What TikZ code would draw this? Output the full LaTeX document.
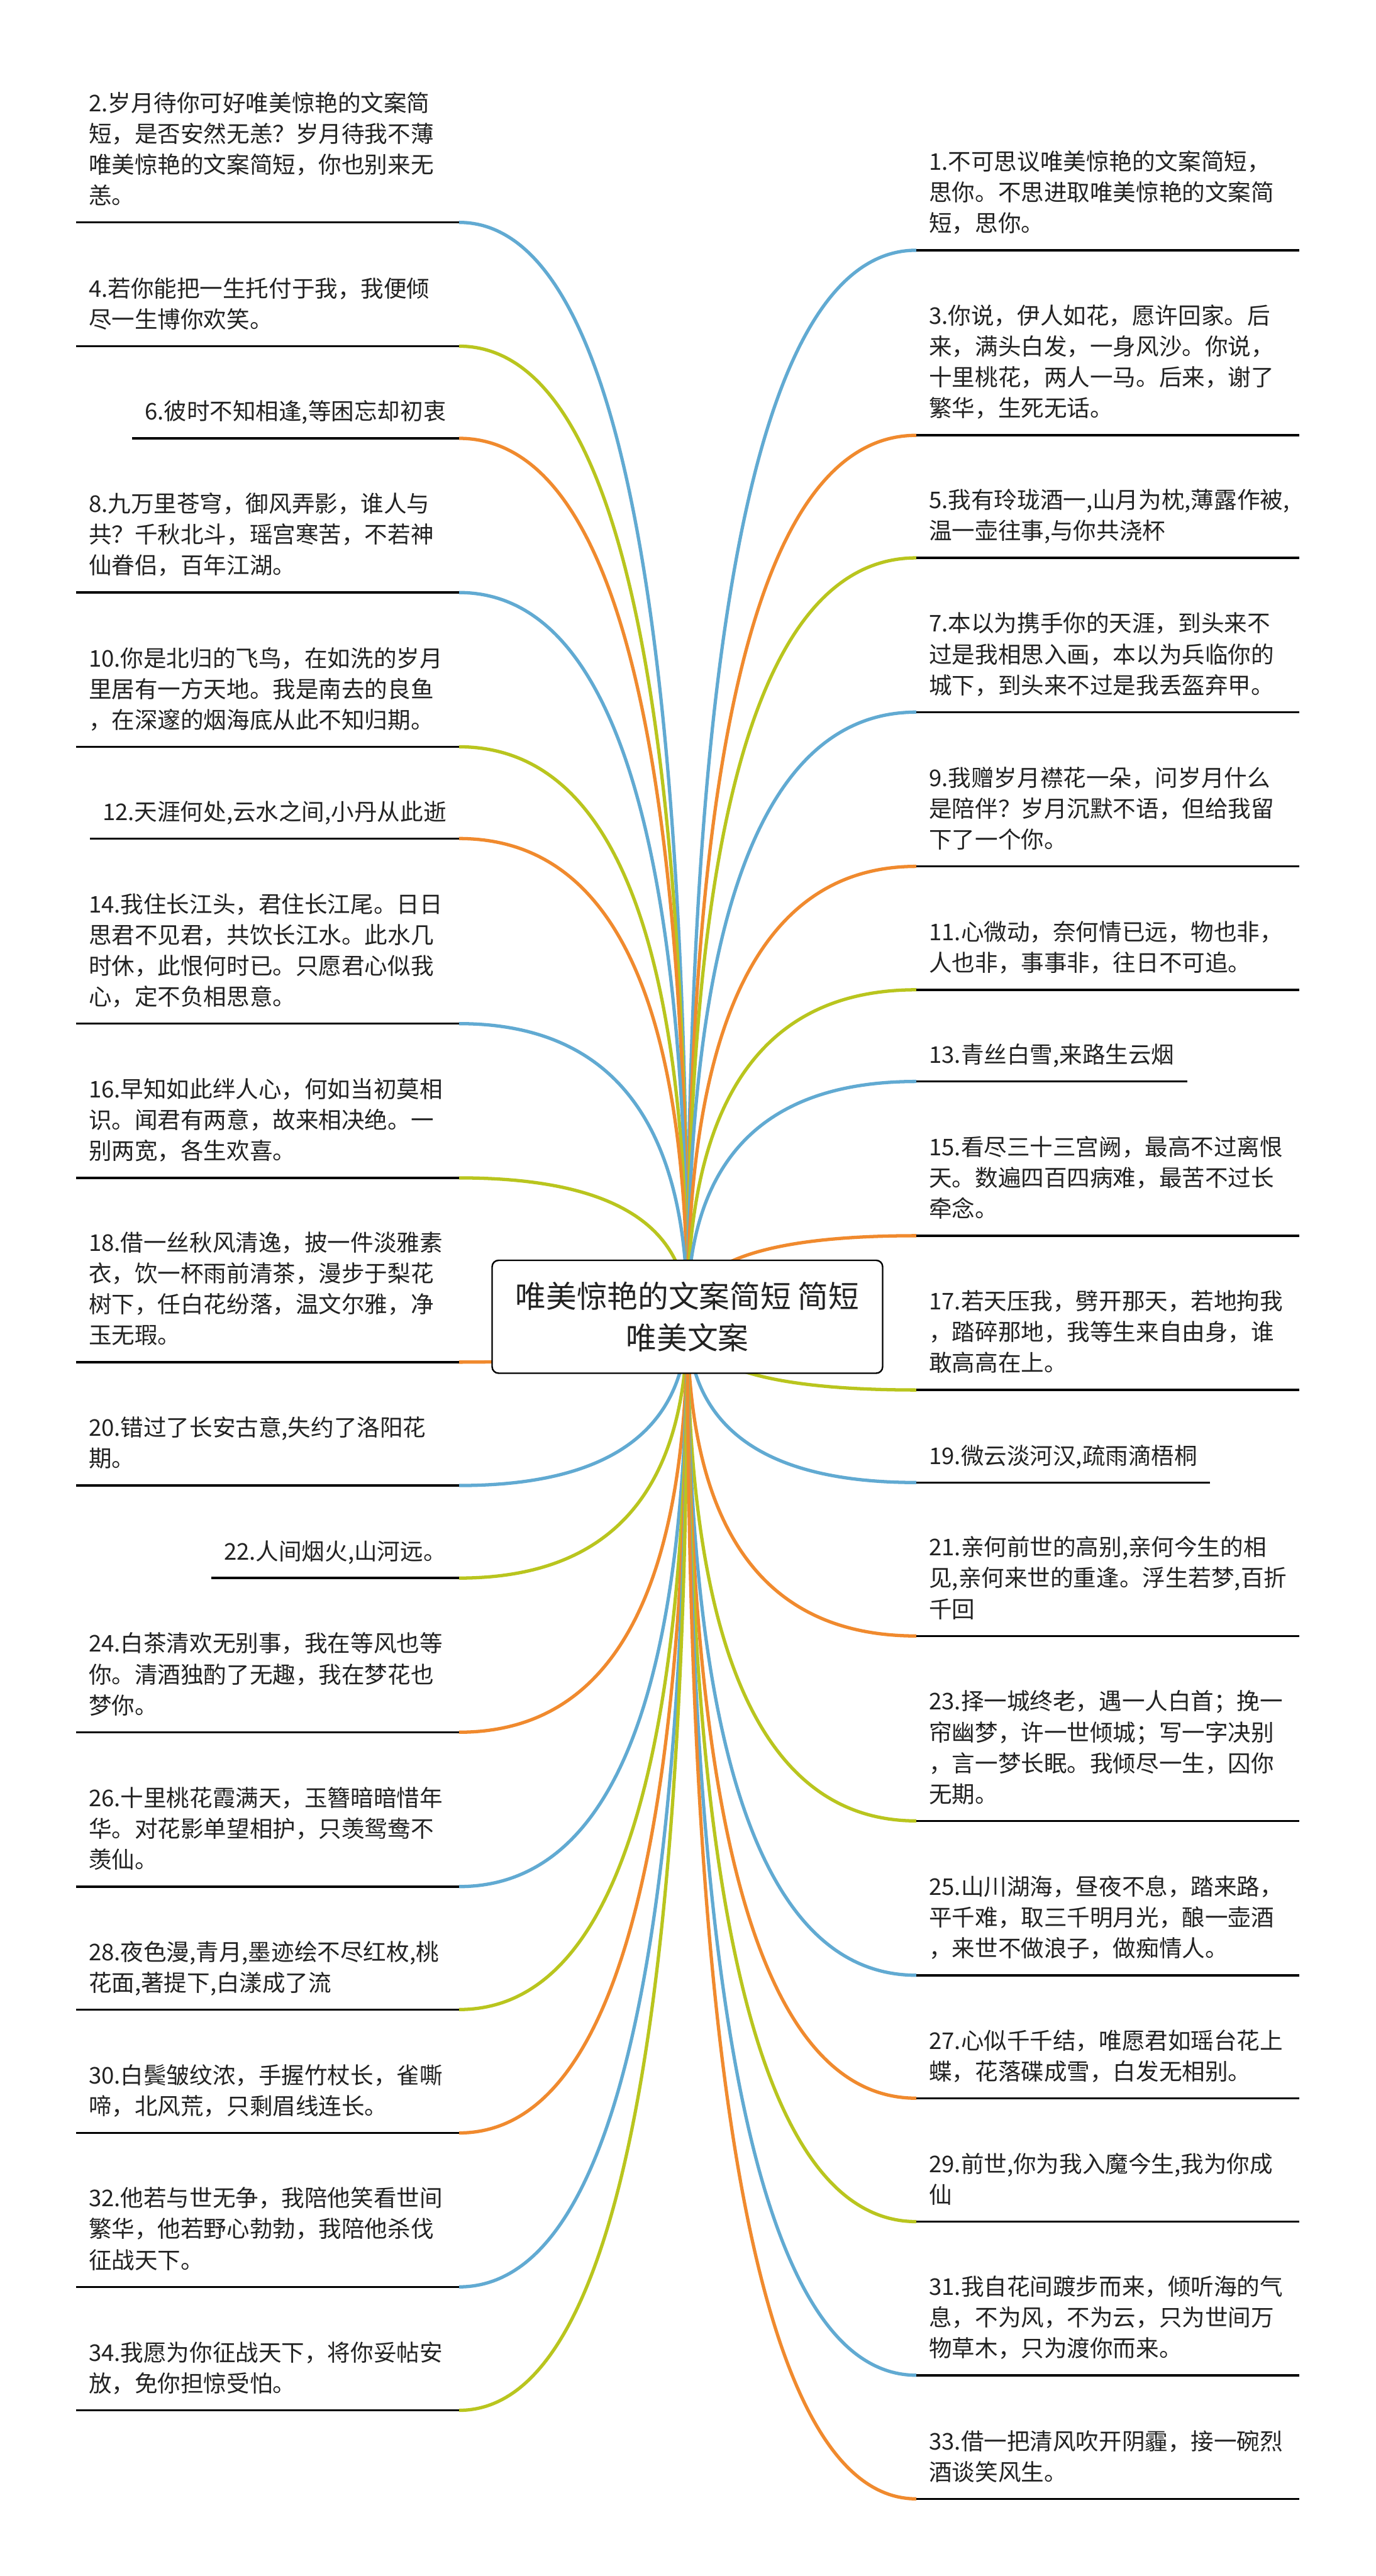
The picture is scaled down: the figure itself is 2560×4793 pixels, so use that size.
\documentclass[tikz,border=0pt]{standalone}
\usepackage{fontspec}
\setmainfont{Noto Sans CJK SC}
\usetikzlibrary{calc,backgrounds}
\definecolor{cblue}{RGB}{97,170,210}
\definecolor{cgreen}{RGB}{185,197,30}
\definecolor{corange}{RGB}{240,138,46}
\definecolor{ctext}{RGB}{34,34,34}
\newcommand\itemfont{\fontsize{12.84pt}{17.22pt}\selectfont}
\newcommand\rootfont{\fontsize{17.1pt}{23pt}\selectfont}
\tikzset{
  item/.style={inner xsep=6.9pt, inner ysep=4.9pt, font=\itemfont, text=ctext, execute at end node=\strut},
  multi/.style={text width=199.6pt, align=left},
  single/.style={},
  litem/.style={item, anchor=south east},
  ritem/.style={item, anchor=south west},
  uline/.style={line width=1.25pt, black},
  conn/.style={line width=1.85pt},
  rootbox/.style={draw=black, line width=0.85pt, rounded corners=3.6pt, fill=white,
    minimum width=218pt, minimum height=63pt, font=\rootfont, align=center, text=ctext, inner sep=0pt}
}
\newcommand\lentry[5]{%
  \node[litem,#4] (#1) at (854,#2) {#5};
  \draw[uline] (#1.south west) -- (#1.south east);
  \begin{pgfonlayer}{background}
    \coordinate (k#1) at (root.center |- #1.south east);
    \draw[conn,#3] (root.center) .. controls ($(root.center)!0.6667!(k#1)$) and ($(#1.south east)!0.6667!(k#1)$) .. (#1.south east);
  \end{pgfonlayer}}
\newcommand\rentry[5]{%
  \node[ritem,#4] (#1) at (1705,#2) {#5};
  \draw[uline] (#1.south west) -- (#1.south east);
  \begin{pgfonlayer}{background}
    \coordinate (k#1) at (root.center |- #1.south west);
    \draw[conn,#3] (root.center) .. controls ($(root.center)!0.6667!(k#1)$) and ($(#1.south west)!0.6667!(k#1)$) .. (#1.south west);
  \end{pgfonlayer}}
\begin{document}
\begin{tikzpicture}[x=0.3pt,y=-0.3pt]
\useasboundingbox (0,0) rectangle (2560,4793);
\begin{pgfonlayer}{background}
  \fill[white] (0,0) rectangle (2560,4793);
\end{pgfonlayer}
\node[rootbox] (root) at (1279,2450) {唯美惊艳的文案简短 简短\\唯美文案};
% left column
\lentry{n2}{413.8}{cblue}{multi}{2.岁月待你可好唯美惊艳的文案简\\短，是否安然无恙？岁月待我不薄\\唯美惊艳的文案简短，你也别来无\\恙。}
\lentry{n4}{644.1}{cgreen}{multi}{4.若你能把一生托付于我，我便倾\\尽一生博你欢笑。}
\lentry{n6}{815.6}{corange}{single}{6.彼时不知相逢,等困忘却初衷}
\lentry{n8}{1102.5}{cblue}{multi}{8.九万里苍穹，御风弄影，谁人与\\共？千秋北斗，瑶宫寒苦，不若神\\仙眷侣，百年江湖。}
\lentry{n10}{1389.5}{cgreen}{multi}{10.你是北归的飞鸟，在如洗的岁月\\里居有一方天地。我是南去的良鱼\\，在深邃的烟海底从此不知归期。}
\lentry{n12}{1560.2}{corange}{single}{12.天涯何处,云水之间,小丹从此逝}
\lentry{n14}{1904.6}{cblue}{multi}{14.我住长江头，君住长江尾。日日\\思君不见君，共饮长江水。此水几\\时休，此恨何时已。只愿君心似我\\心，定不负相思意。}
\lentry{n16}{2191.6}{cgreen}{multi}{16.早知如此绊人心，何如当初莫相\\识。闻君有两意，故来相决绝。一\\别两宽，各生欢喜。}
\lentry{n18}{2534.4}{corange}{multi}{18.借一丝秋风清逸，披一件淡雅素\\衣，饮一杯雨前清茶，漫步于梨花\\树下，任白花纷落，温文尔雅，净\\玉无瑕。}
\lentry{n20}{2764}{cblue}{multi}{20.错过了长安古意,失约了洛阳花\\期。}
\lentry{n22}{2936.2}{cgreen}{single}{22.人间烟火,山河远。}
\lentry{n24}{3223}{corange}{multi}{24.白茶清欢无别事，我在等风也等\\你。清酒独酌了无趣，我在梦花也\\梦你。}
\lentry{n26}{3510.2}{cblue}{multi}{26.十里桃花霞满天，玉簪暗暗惜年\\华。对花影单望相护，只羡鸳鸯不\\羡仙。}
\lentry{n28}{3739}{cgreen}{multi}{28.夜色漫,青月,墨迹绘不尽红枚,桃\\花面,著提下,白漾成了流}
\lentry{n30}{3968.6}{corange}{multi}{30.白鬓皱纹浓，手握竹杖长，雀嘶\\啼，北风荒，只剩眉线连长。}
\lentry{n32}{4255}{cblue}{multi}{32.他若与世无争，我陪他笑看世间\\繁华，他若野心勃勃，我陪他杀伐\\征战天下。}
\lentry{n34}{4484.7}{cgreen}{multi}{34.我愿为你征战天下，将你妥帖安\\放，免你担惊受怕。}
% right column
\rentry{n1}{465.6}{cblue}{multi}{1.不可思议唯美惊艳的文案简短，\\思你。不思进取唯美惊艳的文案简\\短，思你。}
\rentry{n3}{810}{corange}{multi}{3.你说，伊人如花，愿许回家。后\\来，满头白发，一身风沙。你说，\\十里桃花，两人一马。后来，谢了\\繁华，生死无话。}
\rentry{n5}{1038}{cgreen}{multi}{5.我有玲珑酒一,山月为枕,薄露作被,\\温一壶往事,与你共浇杯}
\rentry{n7}{1325}{cblue}{multi}{7.本以为携手你的天涯，到头来不\\过是我相思入画，本以为兵临你的\\城下，到头来不过是我丢盔弃甲。}
\rentry{n9}{1612}{corange}{multi}{9.我赠岁月襟花一朵，问岁月什么\\是陪伴？岁月沉默不语，但给我留\\下了一个你。}
\rentry{n11}{1841.6}{cgreen}{multi}{11.心微动，奈何情已远，物也非，\\人也非，事事非，往日不可追。}
\rentry{n13}{2012.2}{cblue}{single}{13.青丝白雪,来路生云烟}
\rentry{n15}{2299.2}{corange}{multi}{15.看尽三十三宫阙，最高不过离恨\\天。数遍四百四病难，最苦不过长\\牵念。}
\rentry{n17}{2586.2}{cgreen}{multi}{17.若天压我，劈开那天，若地拘我\\，踏碎那地，我等生来自由身，谁\\敢高高在上。}
\rentry{n19}{2758.4}{cblue}{single}{19.微云淡河汉,疏雨滴梧桐}
\rentry{n21}{3043.9}{corange}{multi}{21.亲何前世的高别,亲何今生的相\\见,亲何来世的重逢。浮生若梦,百折\\千回}
\rentry{n23}{3388}{cgreen}{multi}{23.择一城终老，遇一人白首；挽一\\帘幽梦，许一世倾城；写一字决别\\，言一梦长眠。我倾尽一生，囚你\\无期。}
\rentry{n25}{3675.2}{cblue}{multi}{25.山川湖海，昼夜不息，踏来路，\\平千难，取三千明月光，酿一壶酒\\，来世不做浪子，做痴情人。}
\rentry{n27}{3904}{corange}{multi}{27.心似千千结，唯愿君如瑶台花上\\蝶，花落碟成雪，白发无相别。}
\rentry{n29}{4133.6}{cgreen}{multi}{29.前世,你为我入魔今生,我为你成\\仙}
\rentry{n31}{4419.4}{cblue}{multi}{31.我自花间踱步而来，倾听海的气\\息，不为风，不为云，只为世间万\\物草木，只为渡你而来。}
\rentry{n33}{4649.4}{corange}{multi}{33.借一把清风吹开阴霾，接一碗烈\\酒谈笑风生。}
\end{tikzpicture}
\end{document}
